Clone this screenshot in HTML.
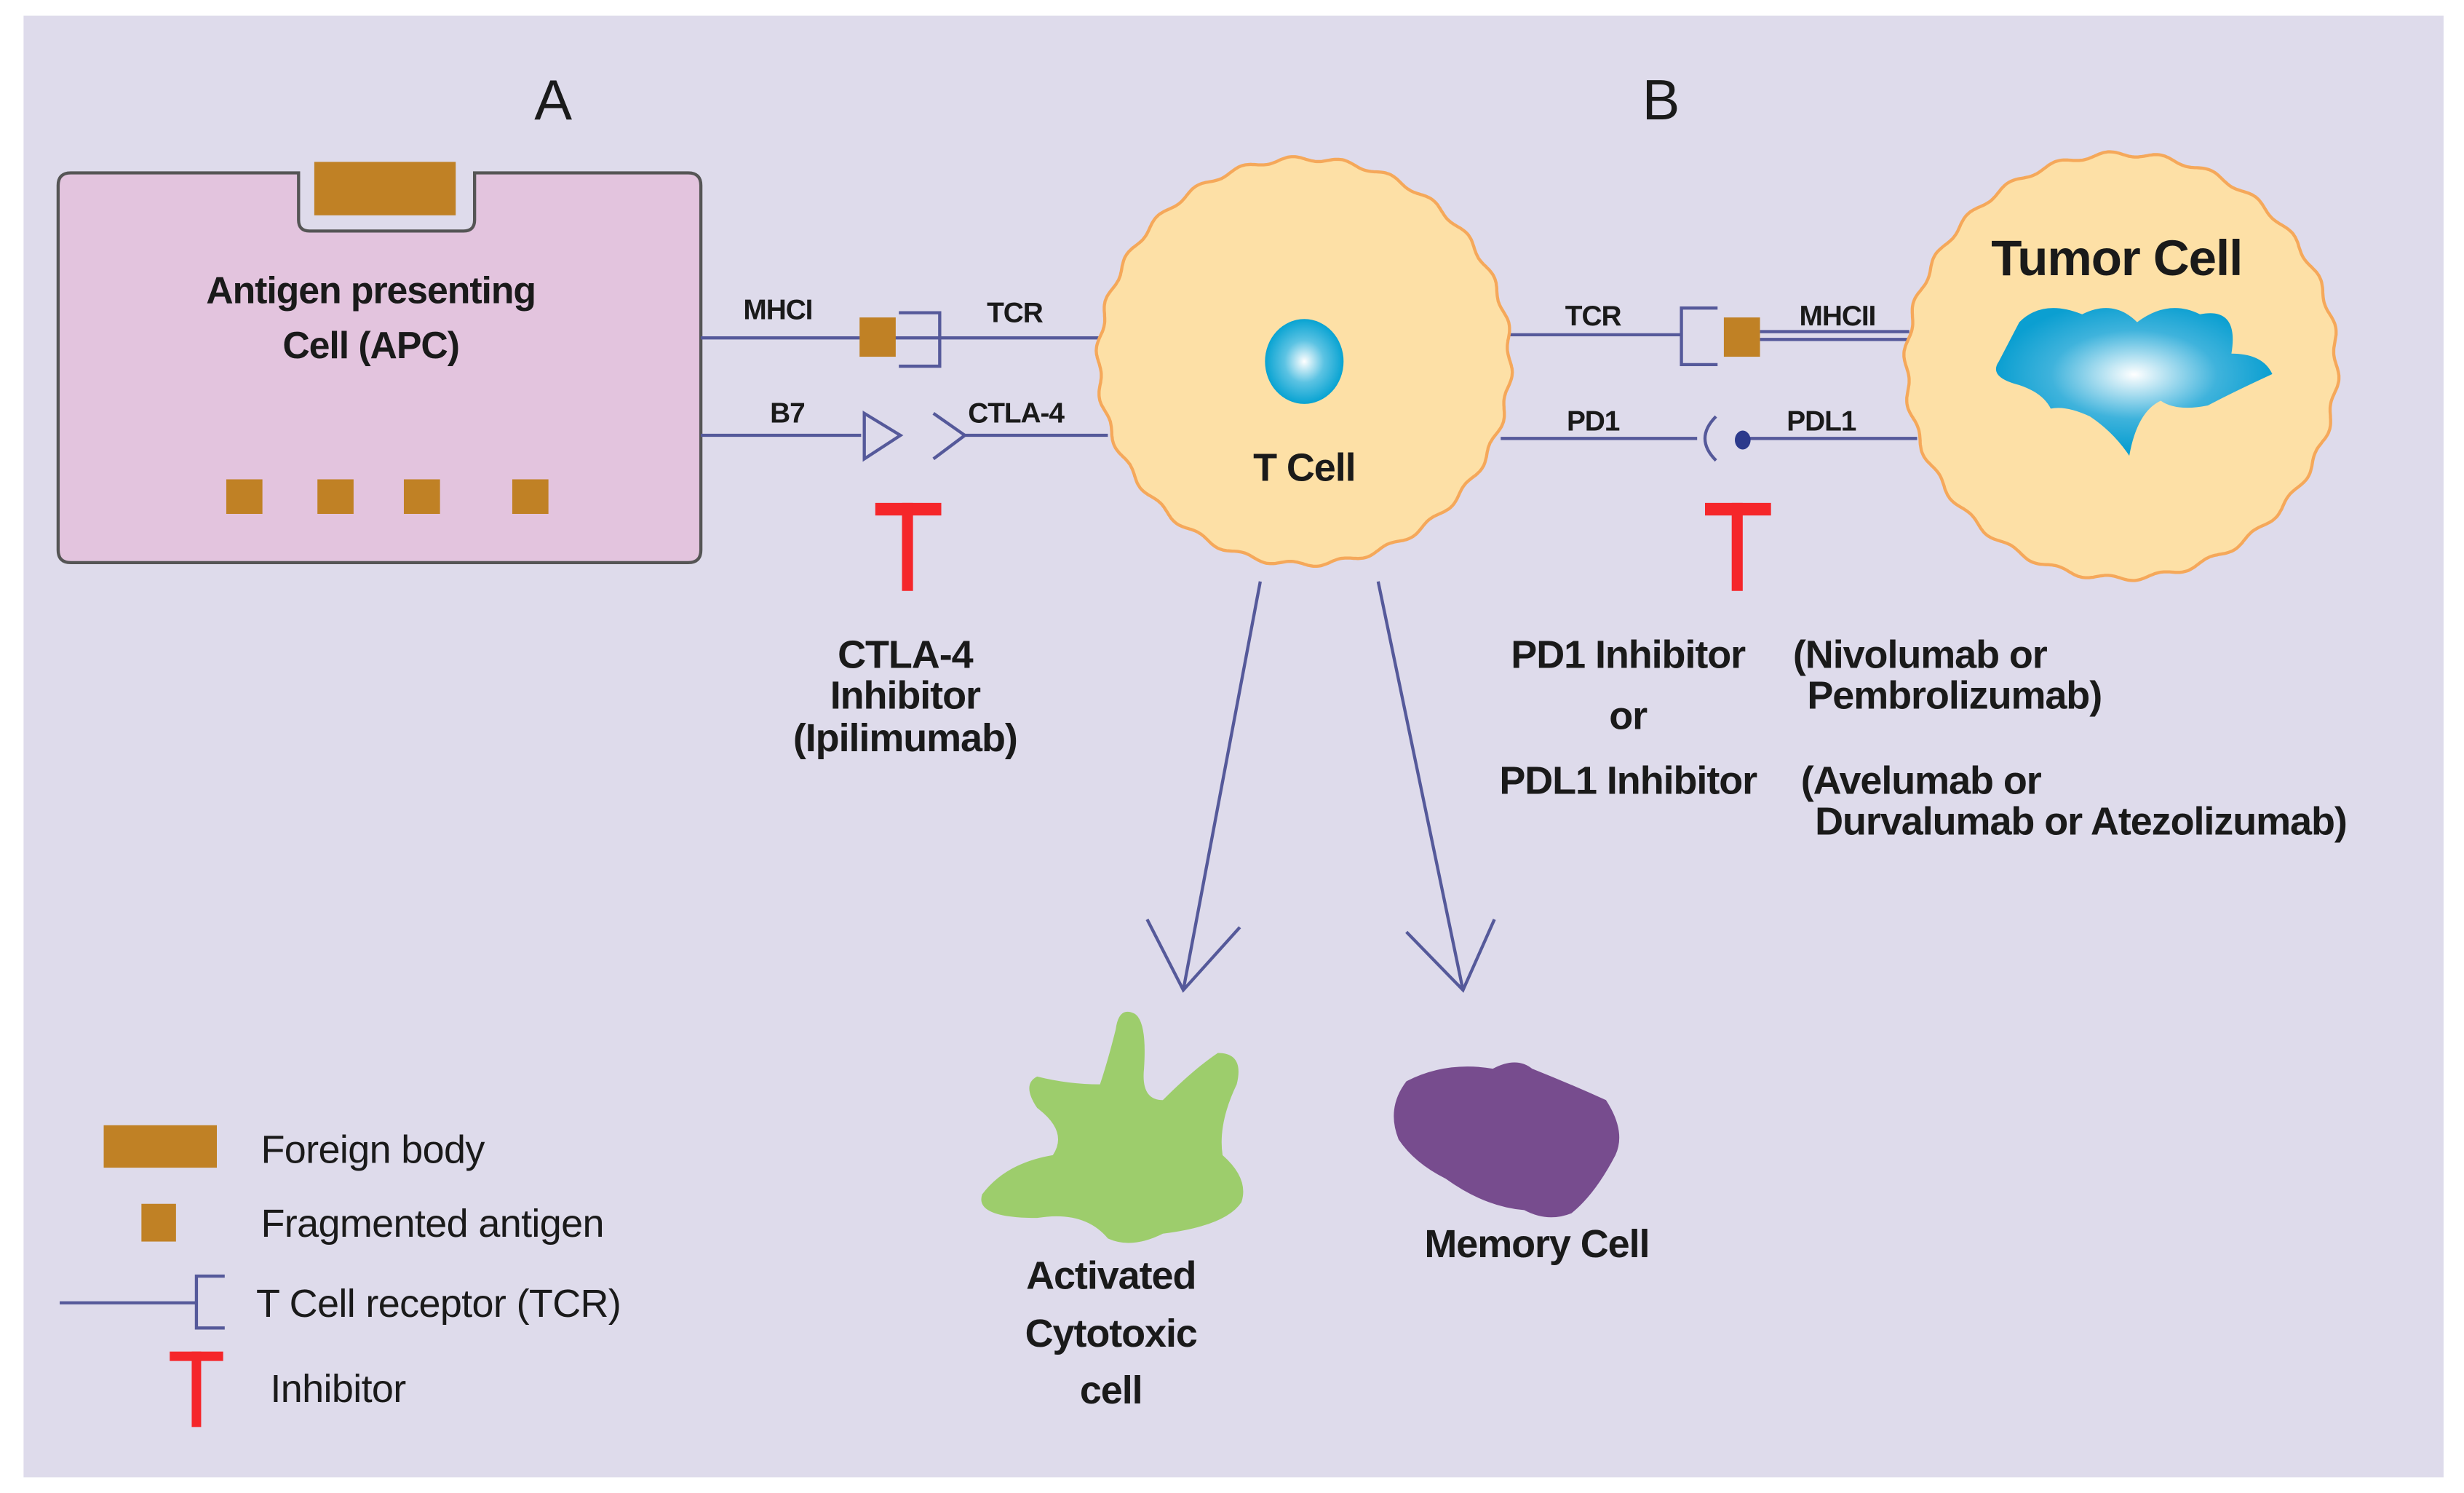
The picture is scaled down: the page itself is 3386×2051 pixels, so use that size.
<!DOCTYPE html>
<html><head><meta charset="utf-8"><style>
html,body{margin:0;padding:0;background:#fff;}
svg{display:block;}
text{font-family:"Liberation Sans",sans-serif;fill:#1a1a1a;}
</style></head><body>
<svg width="3386" height="2051" viewBox="0 0 1568 950" preserveAspectRatio="none" xmlns="http://www.w3.org/2000/svg">
<defs>
<radialGradient id="nuc" cx="50%" cy="50%" r="50%"><stop offset="0" stop-color="#fff"/><stop offset="0.5" stop-color="#5cc3e3"/><stop offset="1" stop-color="#08a3d2"/></radialGradient>
<radialGradient id="tum" cx="0.5" cy="0.45" r="0.5"><stop offset="0" stop-color="#fff"/><stop offset="0.6" stop-color="#3fb3dc"/><stop offset="1" stop-color="#0b9fd1"/></radialGradient>
</defs>
<rect x="15" y="10" width="1540" height="930" fill="#dedbeb"/>
<text x="352" y="76" font-size="36" text-anchor="middle">A</text>
<text x="1057" y="76" font-size="36" text-anchor="middle">B</text>
<!-- APC -->
<path d="M45,110 H190 V140 Q190,147 197,147 H295 Q302,147 302,140 V110 H438 Q446,110 446,118 V350 Q446,358 438,358 H45 Q37,358 37,350 V118 Q37,110 45,110 Z" fill="#e3c4de" stroke="#555" stroke-width="2"/>
<rect x="200" y="103" width="90" height="34" fill="#c08125"/>
<text x="236" y="193" font-size="24" font-weight="bold" text-anchor="middle" letter-spacing="-0.5">Antigen presenting</text>
<text x="236" y="228" font-size="24" font-weight="bold" text-anchor="middle" letter-spacing="-0.5">Cell  (APC)</text>
<g fill="#c08125"><rect x="144" y="305" width="23" height="22"/><rect x="202" y="305" width="23" height="22"/><rect x="257" y="305" width="23" height="22"/><rect x="326" y="305" width="23" height="22"/></g>
<!-- connectors -->
<g stroke="#55599a" stroke-width="2" fill="none">
<line x1="446" y1="215" x2="700" y2="215"/>
<path d="M572,199 H598 V233 H572"/>
<line x1="446" y1="277" x2="548" y2="277"/>
<path d="M550,263 L573,277 L550,292 Z"/>
<path d="M594,263 L614,277 L594,292"/>
<line x1="614" y1="277" x2="705" y2="277"/>
<line x1="960" y1="213" x2="1070" y2="213"/>
<path d="M1093,196 H1070 V232 H1093"/>
<line x1="1120" y1="211" x2="1215" y2="211"/>
<line x1="1120" y1="216" x2="1215" y2="216"/>
<line x1="955" y1="279" x2="1080" y2="279"/>
<path d="M1092,265 Q1078,279 1092,293"/>
<line x1="1109" y1="279" x2="1220" y2="279"/>
<line x1="802" y1="370" x2="753" y2="630"/>
<path d="M730,585 L753,630 L789,590"/>
<line x1="877" y1="370" x2="931" y2="630"/>
<path d="M895,593 L931,630 L951,585"/>
<line x1="38" y1="829" x2="125" y2="829"/>
<path d="M143,812 H125 V845 H143"/>
</g>
<rect x="547" y="202" width="23" height="25" fill="#c08125"/>
<rect x="1097" y="202" width="23" height="25" fill="#c08125"/>
<ellipse cx="1109" cy="280" rx="5" ry="6" fill="#2c3a8c"/>
<g font-size="18" font-weight="bold" letter-spacing="-0.5">
<text x="473" y="203">MHCI</text><text x="628" y="205">TCR</text>
<text x="490" y="269">B7</text><text x="616" y="269">CTLA-4</text>
<text x="996" y="207">TCR</text><text x="1145" y="207">MHCII</text>
<text x="997" y="274">PD1</text><text x="1137" y="274">PDL1</text>
</g>
<!-- cells -->
<path id="tcell" fill="#fde0a6" stroke="#f5a85a" stroke-width="2"/>
<path id="tumor" fill="#fde0a6" stroke="#f5a85a" stroke-width="2"/>
<ellipse cx="830" cy="230" rx="25" ry="27" fill="url(#nuc)"/>
<text x="830" y="306" font-size="25" font-weight="bold" text-anchor="middle" letter-spacing="-0.5">T Cell</text>
<text x="1347" y="175" font-size="32" font-weight="bold" text-anchor="middle" letter-spacing="-0.5">Tumor Cell</text>
<path d="M1285,205 Q1300,190 1325,200 Q1345,190 1360,205 Q1380,190 1400,200 Q1425,195 1420,225 Q1440,225 1446,238 Q1420,250 1405,258 Q1385,262 1375,255 Q1360,262 1355,290 Q1345,275 1330,265 Q1315,258 1305,260 Q1300,250 1285,245 Q1265,240 1272,230 Z" fill="url(#tum)"/>
<!-- inhibitors -->
<g fill="#f5262a"><rect x="557" y="320" width="42" height="8"/><rect x="574" y="320" width="7" height="56"/>
<rect x="1085" y="320" width="42" height="8"/><rect x="1102" y="320" width="7" height="56"/>
<rect x="108" y="860" width="34" height="6"/><rect x="122" y="860" width="6" height="48"/></g>
<g font-size="25" font-weight="bold" letter-spacing="-0.5">
<text x="576" y="425" text-anchor="middle">CTLA-4</text>
<text x="576" y="451" text-anchor="middle">Inhibitor</text>
<text x="576" y="478" text-anchor="middle">(Ipilimumab)</text>
<text x="1036" y="425" text-anchor="middle">PD1 Inhibitor</text>
<text x="1036" y="464" text-anchor="middle">or</text>
<text x="1036" y="505" text-anchor="middle">PDL1 Inhibitor</text>
<text x="1141" y="425">(Nivolumab or</text>
<text x="1150" y="451">Pembrolizumab)</text>
<text x="1146" y="505">(Avelumab or</text>
<text x="1155" y="531">Durvalumab or Atezolizumab)</text>
<text x="707" y="820" text-anchor="middle">Activated</text>
<text x="707" y="857" text-anchor="middle">Cytotoxic</text>
<text x="707" y="893" text-anchor="middle">cell</text>
<text x="978" y="800" text-anchor="middle">Memory Cell</text>
</g>
<path d="M710,655 Q712,640 722,645 Q730,650 728,680 Q726,700 740,700 Q760,680 775,670 Q792,670 787,690 Q775,715 778,735 Q795,750 790,765 Q780,780 740,785 Q720,795 705,788 Q690,770 660,775 Q620,775 625,760 Q640,740 670,735 Q680,720 660,705 Q650,690 660,685 Q680,690 700,690 Q705,675 710,655 Z" fill="#9dcd6c"/>
<path d="M895,688 Q920,675 950,680 Q965,672 975,680 Q1000,690 1022,700 Q1035,720 1028,735 Q1015,760 1000,772 Q985,778 970,770 Q945,768 920,750 Q900,740 890,725 Q882,705 895,688 Z" fill="#774c8e"/>
<!-- legend -->
<rect x="66" y="716" width="72" height="27" fill="#c08125"/>
<rect x="90" y="766" width="22" height="24" fill="#c08125"/>
<g font-size="25" letter-spacing="-0.3">
<text x="166" y="740">Foreign body</text>
<text x="166" y="787">Fragmented antigen</text>
<text x="163" y="838">T Cell receptor (TCR)</text>
<text x="172" y="892">Inhibitor</text>
</g>
<script>
function wavy(id,cx,cy,rx,ry,n,a){var d="";for(var i=0;i<=720;i++){var t=i/720*2*Math.PI;var r=1+a*Math.sin(t*n);var x=cx+rx*r*Math.cos(t),y=cy+ry*r*Math.sin(t);d+=(i?"L":"M")+x.toFixed(1)+","+y.toFixed(1);}document.getElementById(id).setAttribute("d",d+"Z");}
wavy("tcell",830,230,131,129,26,0.012);
wavy("tumor",1350,233,137,135,26,0.012);
</script>
</svg>
</body></html>
